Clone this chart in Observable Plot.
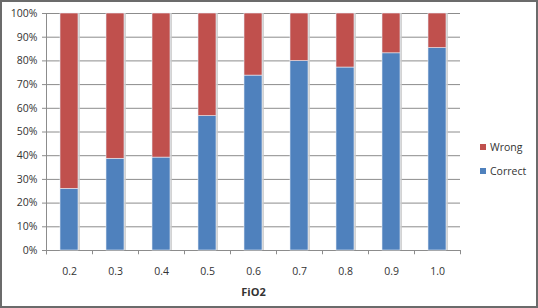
<!DOCTYPE html>
<html><head><meta charset="utf-8">
<script src="https://cdn.jsdelivr.net/npm/d3@7"></script>
<script src="https://cdn.jsdelivr.net/npm/@observablehq/plot@0.6"></script>
<style>
body{margin:0;background:#fff;}
#wrap{position:relative;width:538px;height:308px;font-family:"Open Sans",sans-serif;}
#wrap svg{display:block;}
#border{position:absolute;left:0;top:0;width:534px;height:304px;border:2px solid #6b6b6b;pointer-events:none;}
.leg{position:absolute;left:480px;font-size:10.5px;color:#333;display:flex;align-items:center;}
.leg span.sw{display:inline-block;width:6px;height:6px;margin-right:4px;}
</style></head>
<body><div id="wrap"></div>
<script>
const fio2 = ["0.2","0.3","0.4","0.5","0.6","0.7","0.8","0.9","1.0"];
const correct = [0.26, 0.387, 0.392, 0.567, 0.738, 0.799, 0.772, 0.832, 0.854];
const wrong = [0.74, 0.613, 0.608, 0.433, 0.262, 0.201, 0.228, 0.168, 0.146];
const series = ["Correct","Wrong"];
const colors = ["#4f81bd","#c0504d"];
const yTicks = [0,0.1,0.2,0.3,0.4,0.5,0.6,0.7,0.8,0.9,1];

const rows = [];
fio2.forEach((f,i)=>{
  rows.push({fio2:f, outcome:"Correct", value:correct[i]});
  rows.push({fio2:f, outcome:"Wrong", value:wrong[i]});
});
const totals = fio2.map((f,i)=>({fio2:f, value:correct[i]+wrong[i]}));
const step = 46;

const chart = Plot.plot({
  width:538, height:308,
  marginLeft:46, marginRight:78, marginTop:13, marginBottom:58,
  style:{fontFamily:"'Open Sans', sans-serif", fontSize:"10.5px", color:"#333", background:"transparent"},
  x:{domain:fio2, paddingInner:0.61, paddingOuter:0.305, label:null},
  y:{domain:[0,1], label:null},
  color:{domain:series, range:colors},
  marks:[
    Plot.ruleY(yTicks, {stroke:"#8c8c8c", strokeWidth:1}),
    Plot.ruleX([0], {x:()=>fio2[0], dx:-step/2, y1:-0.018, y2:1, stroke:"#8c8c8c"}),
    Plot.ruleX(fio2, {x:d=>d, dx:step/2, y1:-0.018, y2:0, stroke:"#8c8c8c"}),
    Plot.ruleX([0], {x:()=>fio2[0], dx:-step/2, y1:-0.018, y2:0, stroke:"#8c8c8c"}),
    Plot.barY(totals, {x:"fio2", y:"value", fill:"#c8c8c8", dx:2, fillOpacity:0.8}),
    Plot.barY(rows, {x:"fio2", y:"value", fill:"outcome", order:series, stroke:"#e8eef7", strokeWidth:0.6}),
    Plot.axisY({ticks:yTicks, tickFormat:d3.format(".0%"), tickSize:4, tickPadding:5, stroke:"#8c8c8c", label:null}),
    Plot.axisX({tickSize:0, tickPadding:17, label:null}),
    Plot.text(["FiO2"], {frameAnchor:"bottom", dy:45, fontWeight:"bold", fontSize:11, fill:"#333"})
  ]
});
const wrap = document.getElementById("wrap");
wrap.appendChild(chart);
const legendItems = [["Wrong", colors[1], 140],["Correct", colors[0], 164]];
legendItems.forEach(([name,col,top])=>{
  const d = document.createElement("div");
  d.className="leg"; d.style.top = top+"px";
  d.innerHTML = `<span class="sw" style="background:${col}"></span>${name}`;
  wrap.appendChild(d);
});
const b = document.createElement("div"); b.id="border"; wrap.appendChild(b);
</script></body></html>
